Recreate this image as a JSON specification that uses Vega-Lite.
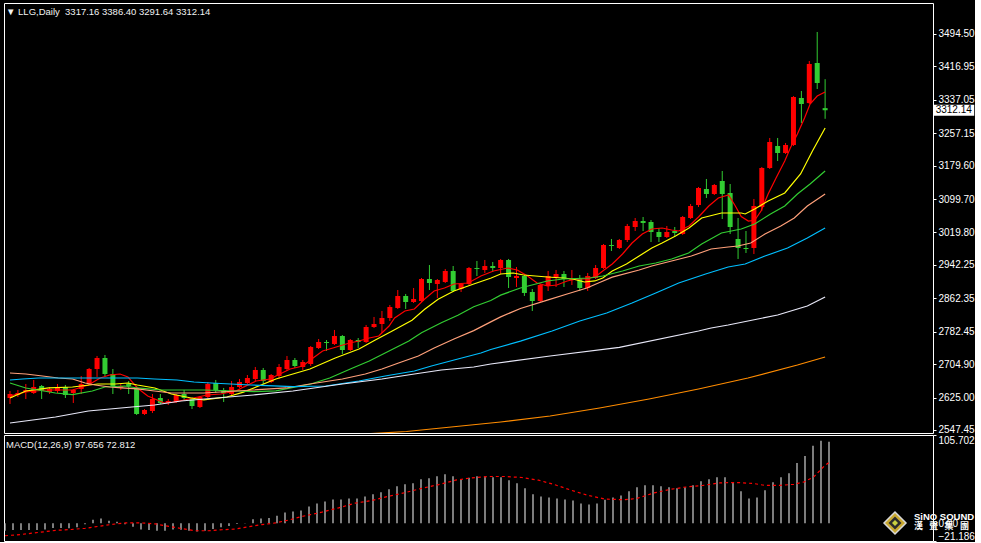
{
  "$schema": "https://vega.github.io/schema/vega-lite/v6.json",
  "background": "#000000",
  "padding": {"left": 3, "top": 2, "right": 0, "bottom": 0},
  "spacing": 2,
  "bounds": "flush",
  "config": {
    "view": {"stroke": "#ffffff", "strokeWidth": 1},
    "concat": {"spacing": 2},
    "axis": {"labelOverlap": false, "labelBound": false},
    "axisY": {"labelOverlap": false},
    "axisQuantitative": {"labelOverlap": false}
  },
  "datasets": {
    "candles": [
      {"d":0,"o":2623.9,"h":2640.7,"l":2609.6,"c":2633.5},
      {"d":1,"o":2631.1,"h":2643.1,"l":2626.3,"c":2635.9},
      {"d":2,"o":2638.3,"h":2657.4,"l":2621.5,"c":2643.1},
      {"d":3,"o":2635.9,"h":2667.0,"l":2633.5,"c":2650.2},
      {"d":4,"o":2652.6,"h":2655.0,"l":2621.5,"c":2640.7},
      {"d":5,"o":2638.3,"h":2650.2,"l":2633.5,"c":2645.5},
      {"d":6,"o":2640.7,"h":2657.4,"l":2635.9,"c":2650.2},
      {"d":7,"o":2650.2,"h":2655.0,"l":2623.9,"c":2631.1},
      {"d":8,"o":2635.9,"h":2645.5,"l":2612.0,"c":2643.1},
      {"d":9,"o":2645.5,"h":2676.5,"l":2633.5,"c":2657.4},
      {"d":10,"o":2659.8,"h":2695.7,"l":2657.4,"c":2693.3},
      {"d":11,"o":2693.3,"h":2724.4,"l":2674.2,"c":2719.6},
      {"d":12,"o":2719.6,"h":2726.8,"l":2676.5,"c":2681.3},
      {"d":13,"o":2681.3,"h":2693.3,"l":2633.5,"c":2652.6},
      {"d":14,"o":2647.9,"h":2657.4,"l":2643.1,"c":2652.6},
      {"d":15,"o":2657.4,"h":2664.6,"l":2633.5,"c":2652.6},
      {"d":16,"o":2647.9,"h":2652.6,"l":2583.3,"c":2585.7},
      {"d":17,"o":2585.7,"h":2597.6,"l":2583.3,"c":2595.2},
      {"d":18,"o":2592.8,"h":2633.5,"l":2588.1,"c":2621.5},
      {"d":19,"o":2623.9,"h":2633.5,"l":2609.6,"c":2612.0},
      {"d":20,"o":2612.0,"h":2621.5,"l":2607.2,"c":2616.8},
      {"d":21,"o":2614.4,"h":2633.5,"l":2612.0,"c":2631.1},
      {"d":22,"o":2633.5,"h":2643.1,"l":2616.8,"c":2623.9},
      {"d":23,"o":2621.5,"h":2626.3,"l":2597.6,"c":2604.8},
      {"d":24,"o":2602.4,"h":2628.7,"l":2600.0,"c":2626.3},
      {"d":25,"o":2626.3,"h":2662.2,"l":2623.9,"c":2657.4},
      {"d":26,"o":2659.8,"h":2667.0,"l":2635.9,"c":2643.1},
      {"d":27,"o":2643.1,"h":2647.9,"l":2614.4,"c":2635.9},
      {"d":28,"o":2633.5,"h":2664.6,"l":2631.0,"c":2650.2},
      {"d":29,"o":2650.2,"h":2669.4,"l":2647.9,"c":2662.2},
      {"d":30,"o":2659.8,"h":2678.9,"l":2657.4,"c":2671.8},
      {"d":31,"o":2669.4,"h":2698.1,"l":2664.6,"c":2690.9},
      {"d":32,"o":2690.9,"h":2695.7,"l":2657.4,"c":2664.6},
      {"d":33,"o":2662.2,"h":2681.3,"l":2659.8,"c":2678.9},
      {"d":34,"o":2676.5,"h":2705.2,"l":2669.4,"c":2698.1},
      {"d":35,"o":2693.3,"h":2724.4,"l":2688.5,"c":2714.8},
      {"d":36,"o":2714.8,"h":2719.6,"l":2695.7,"c":2700.5},
      {"d":37,"o":2698.1,"h":2714.8,"l":2690.9,"c":2710.0},
      {"d":38,"o":2705.2,"h":2748.3,"l":2700.5,"c":2745.9},
      {"d":39,"o":2743.5,"h":2765.0,"l":2741.1,"c":2757.9},
      {"d":40,"o":2757.9,"h":2762.6,"l":2736.3,"c":2755.5},
      {"d":41,"o":2753.1,"h":2786.6,"l":2750.7,"c":2772.2},
      {"d":42,"o":2772.2,"h":2774.5,"l":2729.2,"c":2738.7},
      {"d":43,"o":2738.7,"h":2765.0,"l":2736.3,"c":2762.6},
      {"d":44,"o":2762.6,"h":2767.4,"l":2743.5,"c":2757.9},
      {"d":45,"o":2757.9,"h":2798.5,"l":2755.5,"c":2793.7},
      {"d":46,"o":2793.7,"h":2817.7,"l":2791.3,"c":2800.9},
      {"d":47,"o":2800.9,"h":2832.0,"l":2779.4,"c":2815.3},
      {"d":48,"o":2815.3,"h":2846.4,"l":2808.1,"c":2841.6},
      {"d":49,"o":2839.2,"h":2882.2,"l":2836.8,"c":2867.9},
      {"d":50,"o":2867.9,"h":2872.7,"l":2836.8,"c":2853.5},
      {"d":51,"o":2853.5,"h":2887.0,"l":2851.1,"c":2860.7},
      {"d":52,"o":2855.9,"h":2910.9,"l":2853.5,"c":2908.5},
      {"d":53,"o":2908.5,"h":2942.0,"l":2882.2,"c":2899.0},
      {"d":54,"o":2896.6,"h":2908.5,"l":2863.1,"c":2906.1},
      {"d":55,"o":2901.4,"h":2932.5,"l":2899.0,"c":2927.7},
      {"d":56,"o":2927.7,"h":2939.6,"l":2877.4,"c":2879.8},
      {"d":57,"o":2884.6,"h":2899.0,"l":2877.4,"c":2896.6},
      {"d":58,"o":2896.6,"h":2937.2,"l":2894.2,"c":2934.8},
      {"d":59,"o":2934.8,"h":2951.6,"l":2915.7,"c":2932.5},
      {"d":60,"o":2930.1,"h":2954.0,"l":2922.9,"c":2939.6},
      {"d":61,"o":2939.6,"h":2949.2,"l":2925.3,"c":2934.8},
      {"d":62,"o":2934.8,"h":2956.4,"l":2920.5,"c":2954.0},
      {"d":63,"o":2954.0,"h":2956.4,"l":2887.0,"c":2913.3},
      {"d":64,"o":2910.9,"h":2937.2,"l":2889.4,"c":2915.7},
      {"d":65,"o":2915.7,"h":2920.5,"l":2867.9,"c":2875.1},
      {"d":66,"o":2877.4,"h":2884.6,"l":2832.0,"c":2855.9},
      {"d":67,"o":2855.9,"h":2896.6,"l":2853.5,"c":2894.2},
      {"d":68,"o":2891.8,"h":2927.7,"l":2879.8,"c":2915.7},
      {"d":69,"o":2913.3,"h":2930.1,"l":2889.4,"c":2920.5},
      {"d":70,"o":2920.5,"h":2927.7,"l":2889.4,"c":2908.5},
      {"d":71,"o":2906.1,"h":2930.1,"l":2894.2,"c":2908.5},
      {"d":72,"o":2908.5,"h":2918.1,"l":2879.8,"c":2887.0},
      {"d":73,"o":2887.0,"h":2922.9,"l":2879.8,"c":2915.7},
      {"d":74,"o":2910.9,"h":2942.0,"l":2908.5,"c":2934.8},
      {"d":75,"o":2934.8,"h":2992.2,"l":2932.5,"c":2989.8},
      {"d":76,"o":2989.8,"h":3004.2,"l":2975.5,"c":2987.5},
      {"d":77,"o":2982.7,"h":3004.2,"l":2980.3,"c":3001.8},
      {"d":78,"o":3001.8,"h":3040.1,"l":2997.0,"c":3035.3},
      {"d":79,"o":3032.9,"h":3054.4,"l":3023.3,"c":3047.2},
      {"d":80,"o":3047.2,"h":3056.8,"l":3023.3,"c":3042.5},
      {"d":81,"o":3044.9,"h":3049.6,"l":2997.0,"c":3020.9},
      {"d":82,"o":3020.9,"h":3030.5,"l":2997.0,"c":3009.0},
      {"d":83,"o":3009.0,"h":3035.3,"l":3006.6,"c":3020.9},
      {"d":84,"o":3023.3,"h":3032.9,"l":3009.0,"c":3018.5},
      {"d":85,"o":3016.2,"h":3059.2,"l":3014.0,"c":3056.8},
      {"d":86,"o":3054.4,"h":3087.9,"l":3052.0,"c":3083.1},
      {"d":87,"o":3085.5,"h":3128.6,"l":3080.7,"c":3126.2},
      {"d":88,"o":3123.8,"h":3147.7,"l":3102.3,"c":3111.8},
      {"d":89,"o":3111.8,"h":3135.7,"l":3109.4,"c":3133.3},
      {"d":90,"o":3142.9,"h":3166.8,"l":3052.0,"c":3111.8},
      {"d":91,"o":3114.2,"h":3135.7,"l":3016.2,"c":3032.9},
      {"d":92,"o":3004.2,"h":3054.4,"l":2956.4,"c":2982.7},
      {"d":93,"o":2982.7,"h":3023.3,"l":2970.7,"c":2980.3},
      {"d":94,"o":2982.7,"h":3099.9,"l":2968.3,"c":3083.1},
      {"d":95,"o":3080.7,"h":3176.4,"l":3071.2,"c":3174.0},
      {"d":96,"o":3174.0,"h":3245.8,"l":3171.6,"c":3236.2},
      {"d":97,"o":3226.6,"h":3245.8,"l":3190.7,"c":3209.9},
      {"d":98,"o":3209.9,"h":3233.8,"l":3207.5,"c":3229.0},
      {"d":99,"o":3229.0,"h":3346.0,"l":3226.6,"c":3343.8},
      {"d":100,"o":3341.4,"h":3358.2,"l":3281.6,"c":3327.1},
      {"d":101,"o":3329.5,"h":3429.9,"l":3327.1,"c":3422.7},
      {"d":102,"o":3425.1,"h":3499.3,"l":3362.9,"c":3377.3},
      {"d":103,"o":3317.16,"h":3386.40,"l":3291.64,"c":3312.14}
    ],
    "ma": [
      {"s":"m5","d":0,"v":2628.7},{"s":"m5","d":2,"v":2638.3},{"s":"m5","d":4.5,"v":2643.1},{"s":"m5","d":7.9,"v":2643.1},
      {"s":"m5","d":9.9,"v":2655.0},{"s":"m5","d":11.4,"v":2671.8},{"s":"m5","d":12.6,"v":2678.9},{"s":"m5","d":13.9,"v":2681.3},
      {"s":"m5","d":14.9,"v":2674.2},{"s":"m5","d":16.1,"v":2647.9},{"s":"m5","d":17.4,"v":2628.7},{"s":"m5","d":19.5,"v":2612.0},
      {"s":"m5","d":20.8,"v":2614.4},{"s":"m5","d":22,"v":2619.2},{"s":"m5","d":24.9,"v":2631.1},{"s":"m5","d":26.6,"v":2633.5},
      {"s":"m5","d":28.6,"v":2641.0},{"s":"m5","d":29.5,"v":2650.0},{"s":"m5","d":31.1,"v":2664.6},{"s":"m5","d":32.9,"v":2669.4},
      {"s":"m5","d":33.6,"v":2676.5},{"s":"m5","d":35.4,"v":2693.3},{"s":"m5","d":37,"v":2700.5},{"s":"m5","d":38.3,"v":2719.6},
      {"s":"m5","d":39.5,"v":2736.3},{"s":"m5","d":40.8,"v":2743.5},{"s":"m5","d":42.9,"v":2755.5},{"s":"m5","d":44.1,"v":2760.3},
      {"s":"m5","d":45.4,"v":2767.4},{"s":"m5","d":46.6,"v":2772.2},{"s":"m5","d":47.9,"v":2796.1},{"s":"m5","d":48.6,"v":2815.3},
      {"s":"m5","d":49.9,"v":2832.0},{"s":"m5","d":51.1,"v":2836.8},{"s":"m5","d":52.4,"v":2860.7},{"s":"m5","d":53.6,"v":2879.8},
      {"s":"m5","d":54.9,"v":2887.0},{"s":"m5","d":56.1,"v":2896.6},{"s":"m5","d":57.9,"v":2899.0},{"s":"m5","d":59.5,"v":2915.7},
      {"s":"m5","d":61.1,"v":2927.7},{"s":"m5","d":62.9,"v":2934.8},{"s":"m5","d":64.1,"v":2930.1},{"s":"m5","d":65.4,"v":2915.7},
      {"s":"m5","d":66.6,"v":2899.0},{"s":"m5","d":67.9,"v":2891.8},{"s":"m5","d":69.1,"v":2894.2},{"s":"m5","d":70.4,"v":2903.8},
      {"s":"m5","d":71.6,"v":2908.5},{"s":"m5","d":72.9,"v":2908.5},{"s":"m5","d":74.1,"v":2915.7},{"s":"m5","d":74.9,"v":2927.7},
      {"s":"m5","d":76.1,"v":2944.4},{"s":"m5","d":77.4,"v":2968.3},{"s":"m5","d":78.6,"v":2994.6},{"s":"m5","d":79.9,"v":3016.2},
      {"s":"m5","d":81.1,"v":3028.1},{"s":"m5","d":82.4,"v":3030.5},{"s":"m5","d":83.6,"v":3025.7},{"s":"m5","d":84.5,"v":3023.3},
      {"s":"m5","d":85.8,"v":3035.3},{"s":"m5","d":87,"v":3056.8},{"s":"m5","d":88.3,"v":3083.1},{"s":"m5","d":89.5,"v":3102.3},
      {"s":"m5","d":90.8,"v":3109.4},{"s":"m5","d":91.6,"v":3085.0},{"s":"m5","d":92.4,"v":3058.0},{"s":"m5","d":93.3,"v":3047.2},
      {"s":"m5","d":94.1,"v":3049.0},{"s":"m5","d":94.9,"v":3071.2},{"s":"m5","d":95.8,"v":3111.8},{"s":"m5","d":96.8,"v":3150.1},
      {"s":"m5","d":97.9,"v":3190.7},{"s":"m5","d":98.6,"v":3221.8},{"s":"m5","d":99.5,"v":3255.3},{"s":"m5","d":100.4,"v":3293.6},
      {"s":"m5","d":101.1,"v":3327.1},{"s":"m5","d":102,"v":3346.2},{"s":"m5","d":103,"v":3355.8},

      {"s":"m10","d":0,"v":2623.9},{"s":"m10","d":2,"v":2640.7},{"s":"m10","d":4.9,"v":2647.9},{"s":"m10","d":7.9,"v":2650.2},
      {"s":"m10","d":11.1,"v":2657.4},{"s":"m10","d":13.3,"v":2657.4},{"s":"m10","d":14.9,"v":2659.8},{"s":"m10","d":16.1,"v":2655.0},
      {"s":"m10","d":18.3,"v":2647.9},{"s":"m10","d":20.4,"v":2633.5},{"s":"m10","d":22.9,"v":2623.9},{"s":"m10","d":24.5,"v":2619.2},
      {"s":"m10","d":27.4,"v":2626.3},{"s":"m10","d":29.5,"v":2638.0},{"s":"m10","d":33.6,"v":2669.4},{"s":"m10","d":37.9,"v":2693.3},
      {"s":"m10","d":41.1,"v":2719.6},{"s":"m10","d":44.1,"v":2741.1},{"s":"m10","d":46.1,"v":2762.0},{"s":"m10","d":48.3,"v":2784.0},
      {"s":"m10","d":50.8,"v":2810.0},{"s":"m10","d":52.4,"v":2836.0},{"s":"m10","d":54.1,"v":2860.0},{"s":"m10","d":56.1,"v":2879.8},
      {"s":"m10","d":58.6,"v":2896.6},{"s":"m10","d":60.8,"v":2910.9},{"s":"m10","d":62,"v":2920.5},{"s":"m10","d":63.6,"v":2922.9},
      {"s":"m10","d":64.9,"v":2918.1},{"s":"m10","d":67.9,"v":2913.3},{"s":"m10","d":69.9,"v":2910.9},{"s":"m10","d":71.1,"v":2908.5},
      {"s":"m10","d":72.6,"v":2901.4},{"s":"m10","d":73.9,"v":2903.8},{"s":"m10","d":74.9,"v":2910.9},{"s":"m10","d":76.1,"v":2927.7},
      {"s":"m10","d":77.9,"v":2944.4},{"s":"m10","d":79.5,"v":2963.5},{"s":"m10","d":81.1,"v":2982.7},{"s":"m10","d":82.4,"v":2994.6},
      {"s":"m10","d":84.1,"v":3011.4},{"s":"m10","d":85.8,"v":3030.5},{"s":"m10","d":87.4,"v":3054.4},{"s":"m10","d":89.9,"v":3066.4},
      {"s":"m10","d":92.4,"v":3066.4},{"s":"m10","d":92.9,"v":3064.0},{"s":"m10","d":94.1,"v":3075.9},{"s":"m10","d":95.8,"v":3095.1},
      {"s":"m10","d":97.9,"v":3114.2},{"s":"m10","d":99.9,"v":3159.7},{"s":"m10","d":101.4,"v":3214.7},{"s":"m10","d":103,"v":3269.7},

      {"s":"m20","d":0,"v":2659.8},{"s":"m20","d":2,"v":2647.9},{"s":"m20","d":5.75,"v":2635.9},{"s":"m20","d":7.9,"v":2632.0},
      {"s":"m20","d":10.4,"v":2640.7},{"s":"m20","d":12,"v":2650.2},{"s":"m20","d":14.5,"v":2652.6},{"s":"m20","d":16.1,"v":2647.9},
      {"s":"m20","d":19.1,"v":2643.1},{"s":"m20","d":24.5,"v":2643.1},{"s":"m20","d":28.6,"v":2640.7},{"s":"m20","d":30.75,"v":2639.0},
      {"s":"m20","d":33.6,"v":2641.0},{"s":"m20","d":38,"v":2657.4},{"s":"m20","d":40.4,"v":2671.8},{"s":"m20","d":43.3,"v":2695.7},
      {"s":"m20","d":45.4,"v":2712.4},{"s":"m20","d":47.9,"v":2736.3},{"s":"m20","d":50.4,"v":2760.3},{"s":"m20","d":52,"v":2780.0},
      {"s":"m20","d":54.5,"v":2804.0},{"s":"m20","d":56.6,"v":2822.0},{"s":"m20","d":58.6,"v":2842.0},{"s":"m20","d":60.75,"v":2857.0},
      {"s":"m20","d":62,"v":2870.0},{"s":"m20","d":64.5,"v":2887.0},{"s":"m20","d":67.9,"v":2903.8},{"s":"m20","d":69.9,"v":2908.5},
      {"s":"m20","d":73.3,"v":2910.9},{"s":"m20","d":74.9,"v":2915.7},{"s":"m20","d":77.4,"v":2927.7},{"s":"m20","d":79.5,"v":2939.6},
      {"s":"m20","d":81.6,"v":2946.8},{"s":"m20","d":83.6,"v":2956.4},{"s":"m20","d":85.75,"v":2970.7},{"s":"m20","d":87.4,"v":2992.2},
      {"s":"m20","d":89.9,"v":3018.5},{"s":"m20","d":92.4,"v":3028.1},{"s":"m20","d":94.1,"v":3040.1},{"s":"m20","d":96.1,"v":3064.0},
      {"s":"m20","d":97.9,"v":3083.1},{"s":"m20","d":99.5,"v":3111.8},{"s":"m20","d":101.1,"v":3135.7},{"s":"m20","d":103,"v":3166.8},

      {"s":"m30","d":0,"v":2683.7},{"s":"m30","d":2,"v":2681.3},{"s":"m30","d":4.1,"v":2676.5},{"s":"m30","d":6.1,"v":2671.8},
      {"s":"m30","d":7.9,"v":2669.4},{"s":"m30","d":9.5,"v":2659.8},{"s":"m30","d":10.75,"v":2655.0},{"s":"m30","d":12.6,"v":2650.2},
      {"s":"m30","d":14.1,"v":2647.9},{"s":"m30","d":16.1,"v":2645.5},{"s":"m30","d":18.25,"v":2640.7},{"s":"m30","d":20.4,"v":2635.9},
      {"s":"m30","d":24.5,"v":2635.9},{"s":"m30","d":28.6,"v":2640.7},{"s":"m30","d":30.75,"v":2643.1},{"s":"m30","d":34.9,"v":2647.9},
      {"s":"m30","d":37.9,"v":2657.4},{"s":"m30","d":42,"v":2669.4},{"s":"m30","d":44.9,"v":2681.3},{"s":"m30","d":47,"v":2693.3},
      {"s":"m30","d":49.1,"v":2707.6},{"s":"m30","d":51.6,"v":2724.4},{"s":"m30","d":53.6,"v":2743.5},{"s":"m30","d":56.1,"v":2765.0},
      {"s":"m30","d":58.6,"v":2785.0},{"s":"m30","d":60.75,"v":2806.0},{"s":"m30","d":62,"v":2818.0},{"s":"m30","d":64.5,"v":2838.0},
      {"s":"m30","d":67.9,"v":2858.0},{"s":"m30","d":70.4,"v":2872.7},{"s":"m30","d":72.9,"v":2887.0},{"s":"m30","d":74.5,"v":2900.0},
      {"s":"m30","d":76.1,"v":2913.0},{"s":"m30","d":79.5,"v":2930.1},{"s":"m30","d":81.1,"v":2939.6},{"s":"m30","d":83.6,"v":2951.6},
      {"s":"m30","d":86.1,"v":2963.5},{"s":"m30","d":88.6,"v":2980.3},{"s":"m30","d":90.75,"v":2985.1},{"s":"m30","d":92,"v":2987.5},
      {"s":"m30","d":93.6,"v":2994.6},{"s":"m30","d":95.4,"v":3016.2},{"s":"m30","d":97.4,"v":3035.3},{"s":"m30","d":99.1,"v":3054.4},
      {"s":"m30","d":100.75,"v":3083.1},{"s":"m30","d":103,"v":3111.8},

      {"s":"m60","d":0,"v":2667.0},{"s":"m60","d":1.6,"v":2669.4},{"s":"m60","d":3.6,"v":2671.8},{"s":"m60","d":9.5,"v":2671.8},
      {"s":"m60","d":16.1,"v":2671.8},{"s":"m60","d":18.25,"v":2669.4},{"s":"m60","d":21.1,"v":2667.0},{"s":"m60","d":23.25,"v":2662.2},
      {"s":"m60","d":25.4,"v":2659.8},{"s":"m60","d":27.9,"v":2657.4},{"s":"m60","d":30.4,"v":2655.0},{"s":"m60","d":35.75,"v":2651.0},
      {"s":"m60","d":39.9,"v":2652.6},{"s":"m60","d":44.1,"v":2664.6},{"s":"m60","d":47.4,"v":2676.5},{"s":"m60","d":51.1,"v":2688.5},
      {"s":"m60","d":53.25,"v":2700.5},{"s":"m60","d":56.6,"v":2717.2},{"s":"m60","d":59.5,"v":2731.6},{"s":"m60","d":60.75,"v":2740.0},
      {"s":"m60","d":64.5,"v":2760.0},{"s":"m60","d":68.5,"v":2784.2},{"s":"m60","d":72,"v":2808.1},{"s":"m60","d":75.4,"v":2827.2},
      {"s":"m60","d":78.6,"v":2851.1},{"s":"m60","d":81.6,"v":2875.1},{"s":"m60","d":84.5,"v":2899.0},{"s":"m60","d":87.9,"v":2920.5},
      {"s":"m60","d":90.75,"v":2937.2},{"s":"m60","d":92.9,"v":2944.4},{"s":"m60","d":95.4,"v":2963.5},{"s":"m60","d":98.25,"v":2982.7},
      {"s":"m60","d":100.75,"v":3006.6},{"s":"m60","d":103,"v":3030.5},

      {"s":"m120","d":0,"v":2564.1},{"s":"m120","d":5.75,"v":2578.5},{"s":"m120","d":9.9,"v":2592.8},{"s":"m120","d":15.4,"v":2602.4},
      {"s":"m120","d":18.25,"v":2607.2},{"s":"m120","d":21.6,"v":2616.8},{"s":"m120","d":26.1,"v":2623.9},{"s":"m120","d":30.75,"v":2631.1},
      {"s":"m120","d":35.75,"v":2640.7},{"s":"m120","d":42,"v":2657.4},{"s":"m120","d":47,"v":2669.4},{"s":"m120","d":51.1,"v":2681.3},
      {"s":"m120","d":54.5,"v":2690.9},{"s":"m120","d":58.6,"v":2698.1},{"s":"m120","d":60.75,"v":2705.2},{"s":"m120","d":68.25,"v":2724.4},
      {"s":"m120","d":77,"v":2745.0},{"s":"m120","d":87,"v":2784.2},{"s":"m120","d":88.6,"v":2791.3},{"s":"m120","d":90.75,"v":2798.5},
      {"s":"m120","d":94.5,"v":2812.9},{"s":"m120","d":97,"v":2822.4},{"s":"m120","d":100.75,"v":2844.0},{"s":"m120","d":103,"v":2865.5},

      {"s":"m250","d":44,"v":2537.0},{"s":"m250","d":50.1,"v":2543.8},{"s":"m250","d":55.75,"v":2554.6},{"s":"m250","d":62,"v":2566.5},
      {"s":"m250","d":68.25,"v":2580.9},{"s":"m250","d":74.5,"v":2600.0},{"s":"m250","d":80.75,"v":2621.5},{"s":"m250","d":87,"v":2645.5},
      {"s":"m250","d":93.25,"v":2671.8},{"s":"m250","d":99.5,"v":2702.9},{"s":"m250","d":103,"v":2722.0}
    ],
    "macd": [
      {"d":0,"m":-8.9},{"d":1,"m":-8.1},{"d":2,"m":-8.1},{"d":3,"m":-8.1},{"d":4,"m":-8.1},{"d":5,"m":-7.3},{"d":6,"m":-5.6},{"d":7,"m":-5.6},
      {"d":8,"m":-6.0},{"d":9,"m":-4.8},{"d":10,"m":-1.0},{"d":11,"m":4.4},{"d":12,"m":5.6},{"d":13,"m":3.2},{"d":14,"m":2.0},{"d":15,"m":-1.0},
      {"d":16,"m":-4.0},{"d":17,"m":-7.3},{"d":18,"m":-8.1},{"d":19,"m":-8.9},{"d":20,"m":-8.9},{"d":21,"m":-7.3},{"d":22,"m":-7.7},{"d":23,"m":-8.9},
      {"d":24,"m":-9.7},{"d":25,"m":-8.9},{"d":26,"m":-6.9},{"d":27,"m":-4.8},{"d":28,"m":-3.2},{"d":29,"m":-0.8},{"d":30,"m":0.4},{"d":31,"m":4.8},
      {"d":32,"m":5.6},{"d":33,"m":6.4},{"d":34,"m":8.9},{"d":35,"m":12.9},{"d":36,"m":14.1},{"d":37,"m":15.3},{"d":38,"m":20.2},{"d":39,"m":23.8},
      {"d":40,"m":26.2},{"d":41,"m":28.6},{"d":42,"m":28.6},{"d":43,"m":29.8},{"d":44,"m":29.8},{"d":45,"m":32.2},{"d":46,"m":34.7},{"d":47,"m":37.1},
      {"d":48,"m":40.7},{"d":49,"m":44.3},{"d":50,"m":46.7},{"d":51,"m":48.0},{"d":52,"m":52.8},{"d":53,"m":54.0},{"d":54,"m":56.4},{"d":55,"m":58.8},
      {"d":56,"m":56.4},{"d":57,"m":52.8},{"d":58,"m":54.4},{"d":59,"m":56.4},{"d":60,"m":56.4},{"d":61,"m":55.2},{"d":62,"m":55.2},{"d":63,"m":51.6},
      {"d":64,"m":48.0},{"d":65,"m":41.9},{"d":66,"m":34.7},{"d":67,"m":32.2},{"d":68,"m":31.0},{"d":69,"m":29.8},{"d":70,"m":28.6},{"d":71,"m":27.4},
      {"d":72,"m":23.8},{"d":73,"m":22.6},{"d":74,"m":23.8},{"d":75,"m":28.2},{"d":76,"m":31.0},{"d":77,"m":33.4},{"d":78,"m":38.3},{"d":79,"m":43.1},
      {"d":80,"m":45.5},{"d":81,"m":45.5},{"d":82,"m":44.3},{"d":83,"m":43.1},{"d":84,"m":41.9},{"d":85,"m":43.1},{"d":86,"m":45.5},{"d":87,"m":50.4},
      {"d":88,"m":52.8},{"d":89,"m":55.2},{"d":90,"m":55.2},{"d":91,"m":49.2},{"d":92,"m":38.3},{"d":93,"m":29.8},{"d":94,"m":31.0},{"d":95,"m":39.5},
      {"d":96,"m":49.2},{"d":97,"m":55.2},{"d":98,"m":60.0},{"d":99,"m":72.1},{"d":100,"m":80.6},{"d":101,"m":92.7},{"d":102,"m":98.7},{"d":103,"m":97.656}
    ],
    "signal": [
      {"d":0,"v":-14.9},{"d":2.1,"v":-13.3},{"d":4.2,"v":-10.9},{"d":6.3,"v":-8.5},{"d":8.4,"v":-7.3},{"d":10,"v":-6.0},
      {"d":11.7,"v":-3.6},{"d":13.4,"v":-1.2},{"d":15,"v":0.4},{"d":17.1,"v":0.4},{"d":18.8,"v":-0.8},{"d":20.5,"v":-3.6},
      {"d":22.1,"v":-6.4},{"d":23.8,"v":-8.9},{"d":25.5,"v":-8.9},{"d":27.1,"v":-7.7},{"d":28.8,"v":-6.9},{"d":30.5,"v":-4.0},
      {"d":32.1,"v":-1.6},{"d":33.8,"v":0.4},{"d":35.5,"v":4.0},{"d":37.1,"v":8.1},{"d":39.6,"v":13.3},{"d":41.7,"v":18.5},
      {"d":43.8,"v":24.2},{"d":45.9,"v":27.4},{"d":47.9,"v":32.2},{"d":50,"v":36.7},{"d":52.1,"v":41.9},{"d":54.2,"v":46.3},
      {"d":56.3,"v":51.6},{"d":58.3,"v":54.4},{"d":60.4,"v":56.0},{"d":62.5,"v":56.0},{"d":64.6,"v":54.8},{"d":66.7,"v":51.6},
      {"d":68.7,"v":46.3},{"d":70.8,"v":39.5},{"d":72.9,"v":33.4},{"d":75,"v":29.0},{"d":77.4,"v":28.2},{"d":79,"v":29.8},
      {"d":81.1,"v":36.3},{"d":83.2,"v":40.7},{"d":85.2,"v":43.5},{"d":87.3,"v":45.5},{"d":89.4,"v":48.4},{"d":91.5,"v":48.8},
      {"d":93.6,"v":47.6},{"d":94.9,"v":45.5},{"d":97,"v":45.5},{"d":98.6,"v":46.7},{"d":99.9,"v":49.6},{"d":101.1,"v":55.6},
      {"d":102.4,"v":68.5},{"d":103,"v":72.812}
    ],
    "last": [{"p": 3312.14}],
    "header": [{"t": "▼ LLG,Daily\u00a0 3317.16 3386.40 3291.64 3312.14"}],
    "macdlabel": [{"t": "MACD(12,26,9) 97.656 72.812"}],
    "logo": [{"t": "SiNO SOUND", "z": "漢\u2002\u2009聲\u2002\u2009集\u2002\u2009團"}]
  },
  "vconcat": [
    {
      "width": 929,
      "height": 430,
      "layer": [
        {
          "data": {"name": "candles"},
          "mark": {"type": "rule", "strokeWidth": 1, "clip": true},
          "encoding": {
            "x": {"field": "d", "type": "quantitative", "scale": {"domain": [-0.125, 116], "nice": false, "zero": false}, "axis": null},
            "y": {"field": "l", "type": "quantitative", "title": null, "scale": {"domain": [2540.2, 3568.6], "nice": false, "zero": false},
                  "axis": {"orient": "right", "values": [2547.45, 2625.0, 2704.9, 2782.45, 2862.35, 2942.25, 3019.8, 3099.7, 3179.6, 3257.15, 3337.05, 3416.95, 3494.5], "format": ".2f", "labelColor": "#ffffff", "labelFont": "Liberation Sans", "labelFontSize": 10, "tickColor": "#ffffff", "tickSize": 3, "labelPadding": 2, "domain": false, "grid": false, "labelOverlap": false, "labelFlush": false, "title": null}},
            "y2": {"field": "h"},
            "color": {"condition": {"test": "datum.c > datum.o", "value": "#ff0000"}, "value": "#32cd32"}
          }
        },
        {
          "data": {"name": "candles"},
          "mark": {"type": "bar", "width": 5, "clip": true},
          "encoding": {
            "x": {"field": "d", "type": "quantitative"},
            "y": {"field": "o", "type": "quantitative", "title": null,
                  "axis": {"orient": "right", "values": [2547.45, 2625.0, 2704.9, 2782.45, 2862.35, 2942.25, 3019.8, 3099.7, 3179.6, 3257.15, 3337.05, 3416.95, 3494.5], "format": ".2f", "labelColor": "#ffffff", "labelFont": "Liberation Sans", "labelFontSize": 10, "tickColor": "#ffffff", "tickSize": 3, "labelPadding": 2, "domain": false, "grid": false, "labelOverlap": false, "labelFlush": false, "title": null}},
            "y2": {"field": "c"},
            "color": {"condition": {"test": "datum.c > datum.o", "value": "#ff0000"}, "value": "#32cd32"}
          }
        },
        {
          "data": {"name": "ma"},
          "mark": {"type": "line", "strokeWidth": 1.2, "clip": true},
          "encoding": {
            "x": {"field": "d", "type": "quantitative"},
            "y": {"field": "v", "type": "quantitative", "title": null,
                  "axis": {"orient": "right", "values": [2547.45, 2625.0, 2704.9, 2782.45, 2862.35, 2942.25, 3019.8, 3099.7, 3179.6, 3257.15, 3337.05, 3416.95, 3494.5], "format": ".2f", "labelColor": "#ffffff", "labelFont": "Liberation Sans", "labelFontSize": 10, "tickColor": "#ffffff", "tickSize": 3, "labelPadding": 2, "domain": false, "grid": false, "labelOverlap": false, "labelFlush": false, "title": null}},
            "color": {"field": "s", "type": "nominal", "legend": null,
                      "scale": {"domain": ["m5", "m10", "m20", "m30", "m60", "m120", "m250"], "range": ["#ff0000", "#ffff00", "#32cd32", "#ffa07a", "#00bfff", "#e8e8f8", "#ff8c00"]}},
            "order": {"field": "d", "type": "quantitative"}
          }
        },
        {
          "data": {"name": "header"},
          "mark": {"type": "text", "align": "left", "baseline": "alphabetic", "font": "Liberation Sans", "fontSize": 9.5, "color": "#f2f2f2"},
          "encoding": {
            "x": {"datum": -0.5, "type": "quantitative"},
            "y": {"datum": 3539.9, "type": "quantitative",
                  "axis": {"orient": "right", "values": [2547.45, 2625.0, 2704.9, 2782.45, 2862.35, 2942.25, 3019.8, 3099.7, 3179.6, 3257.15, 3337.05, 3416.95, 3494.5], "format": ".2f", "labelColor": "#ffffff", "labelFont": "Liberation Sans", "labelFontSize": 10, "tickColor": "#ffffff", "tickSize": 3, "labelPadding": 2, "domain": false, "grid": false, "labelOverlap": false, "labelFlush": false, "title": null}},
            "text": {"field": "t"}
          }
        },
        {
          "data": {"name": "last"},
          "mark": {"type": "point", "shape": "M-1,-0.27L1,-0.27L1,0.27L-1,0.27Z", "size": 1681, "filled": true, "color": "#ffffff", "opacity": 1, "clip": false},
          "encoding": {
            "x": {"datum": 119.25, "type": "quantitative"},
            "y": {"field": "p", "type": "quantitative", "title": null,
                  "axis": {"orient": "right", "values": [2547.45, 2625.0, 2704.9, 2782.45, 2862.35, 2942.25, 3019.8, 3099.7, 3179.6, 3257.15, 3337.05, 3416.95, 3494.5], "format": ".2f", "labelColor": "#ffffff", "labelFont": "Liberation Sans", "labelFontSize": 10, "tickColor": "#ffffff", "tickSize": 3, "labelPadding": 2, "domain": false, "grid": false, "labelOverlap": false, "labelFlush": false, "title": null}}
          }
        },
        {
          "data": {"name": "last"},
          "mark": {"type": "text", "color": "#000000", "font": "Liberation Sans", "fontSize": 10, "align": "center", "baseline": "middle"},
          "encoding": {
            "x": {"datum": 119.25, "type": "quantitative"},
            "y": {"field": "p", "type": "quantitative", "title": null,
                  "axis": {"orient": "right", "values": [2547.45, 2625.0, 2704.9, 2782.45, 2862.35, 2942.25, 3019.8, 3099.7, 3179.6, 3257.15, 3337.05, 3416.95, 3494.5], "format": ".2f", "labelColor": "#ffffff", "labelFont": "Liberation Sans", "labelFontSize": 10, "tickColor": "#ffffff", "tickSize": 3, "labelPadding": 2, "domain": false, "grid": false, "labelOverlap": false, "labelFlush": false, "title": null}},
            "text": {"field": "p", "type": "quantitative", "format": ".2f"}
          }
        }
      ]
    },
    {
      "width": 929,
      "height": 106,
      "layer": [
        {
          "data": {"name": "macd"},
          "mark": {"type": "rule", "strokeWidth": 1.3, "color": "#c0c0c0", "clip": true},
          "encoding": {
            "x": {"field": "d", "type": "quantitative", "scale": {"domain": [-0.125, 116], "nice": false, "zero": false}, "axis": null},
            "y": {"field": "m", "type": "quantitative", "title": null, "scale": {"domain": [-21.186, 105.702], "nice": false, "zero": false},
                  "axis": {"orient": "right", "values": [105.702, 0, -21.186], "labelExpr": "datum.value === 0 ? '0.00' : format(datum.value, '.3f')", "labelColor": "#ffffff", "labelFont": "Liberation Sans", "labelFontSize": 10, "tickColor": "#ffffff", "tickSize": 3, "labelPadding": 2, "domain": false, "grid": false, "labelFlush": false, "labelOverlap": false, "title": null,
                           "labelBaseline": {"condition": [{"test": "datum.value > 100", "value": "top"}, {"test": "datum.value < -20", "value": "bottom"}], "value": "middle"}}},
            "y2": {"datum": 0}
          }
        },
        {
          "data": {"name": "signal"},
          "mark": {"type": "line", "color": "#ff0000", "strokeWidth": 1.2, "strokeDash": [3, 3], "clip": true},
          "encoding": {
            "x": {"field": "d", "type": "quantitative"},
            "y": {"field": "v", "type": "quantitative", "title": null},
            "order": {"field": "d", "type": "quantitative"}
          }
        },
        {
          "data": {"name": "macdlabel"},
          "mark": {"type": "text", "align": "left", "baseline": "alphabetic", "font": "Liberation Sans", "fontSize": 9.5, "color": "#f2f2f2"},
          "encoding": {
            "x": {"datum": 0.125, "type": "quantitative"},
            "y": {"datum": 90.1, "type": "quantitative"},
            "text": {"field": "t"}
          }
        },
        {
          "data": {"name": "logo"},
          "mark": {"type": "point", "shape": "diamond", "size": 484, "filled": true, "color": "#c8a830", "stroke": "#d8d8d8", "strokeWidth": 1.5, "opacity": 1},
          "encoding": {"x": {"datum": 111.25, "type": "quantitative"}, "y": {"datum": 0.3, "type": "quantitative"}}
        },
        {
          "data": {"name": "logo"},
          "mark": {"type": "point", "shape": "diamond", "size": 170, "filled": true, "color": "#2a2a2a", "opacity": 1},
          "encoding": {"x": {"datum": 111.25, "type": "quantitative"}, "y": {"datum": 0.3, "type": "quantitative"}}
        },
        {
          "data": {"name": "logo"},
          "mark": {"type": "point", "shape": "diamond", "size": 36, "filled": true, "color": "#c8d040", "opacity": 1},
          "encoding": {"x": {"datum": 111.25, "type": "quantitative"}, "y": {"datum": 0.3, "type": "quantitative"}}
        },
        {
          "data": {"name": "logo"},
          "mark": {"type": "text", "align": "left", "baseline": "middle", "font": "Liberation Sans", "fontWeight": "bold", "fontSize": 9.5, "color": "#ffffff"},
          "encoding": {"x": {"datum": 113.625, "type": "quantitative"}, "y": {"datum": 7.5, "type": "quantitative"}, "text": {"field": "t"}}
        },
        {
          "data": {"name": "logo"},
          "mark": {"type": "text", "align": "left", "baseline": "middle", "font": "Noto Sans CJK TC", "fontWeight": "bold", "fontSize": 9, "color": "#ffffff"},
          "encoding": {"x": {"datum": 113.625, "type": "quantitative"}, "y": {"datum": -3.2, "type": "quantitative"}, "text": {"field": "z"}}
        }
      ]
    }
  ]
}
